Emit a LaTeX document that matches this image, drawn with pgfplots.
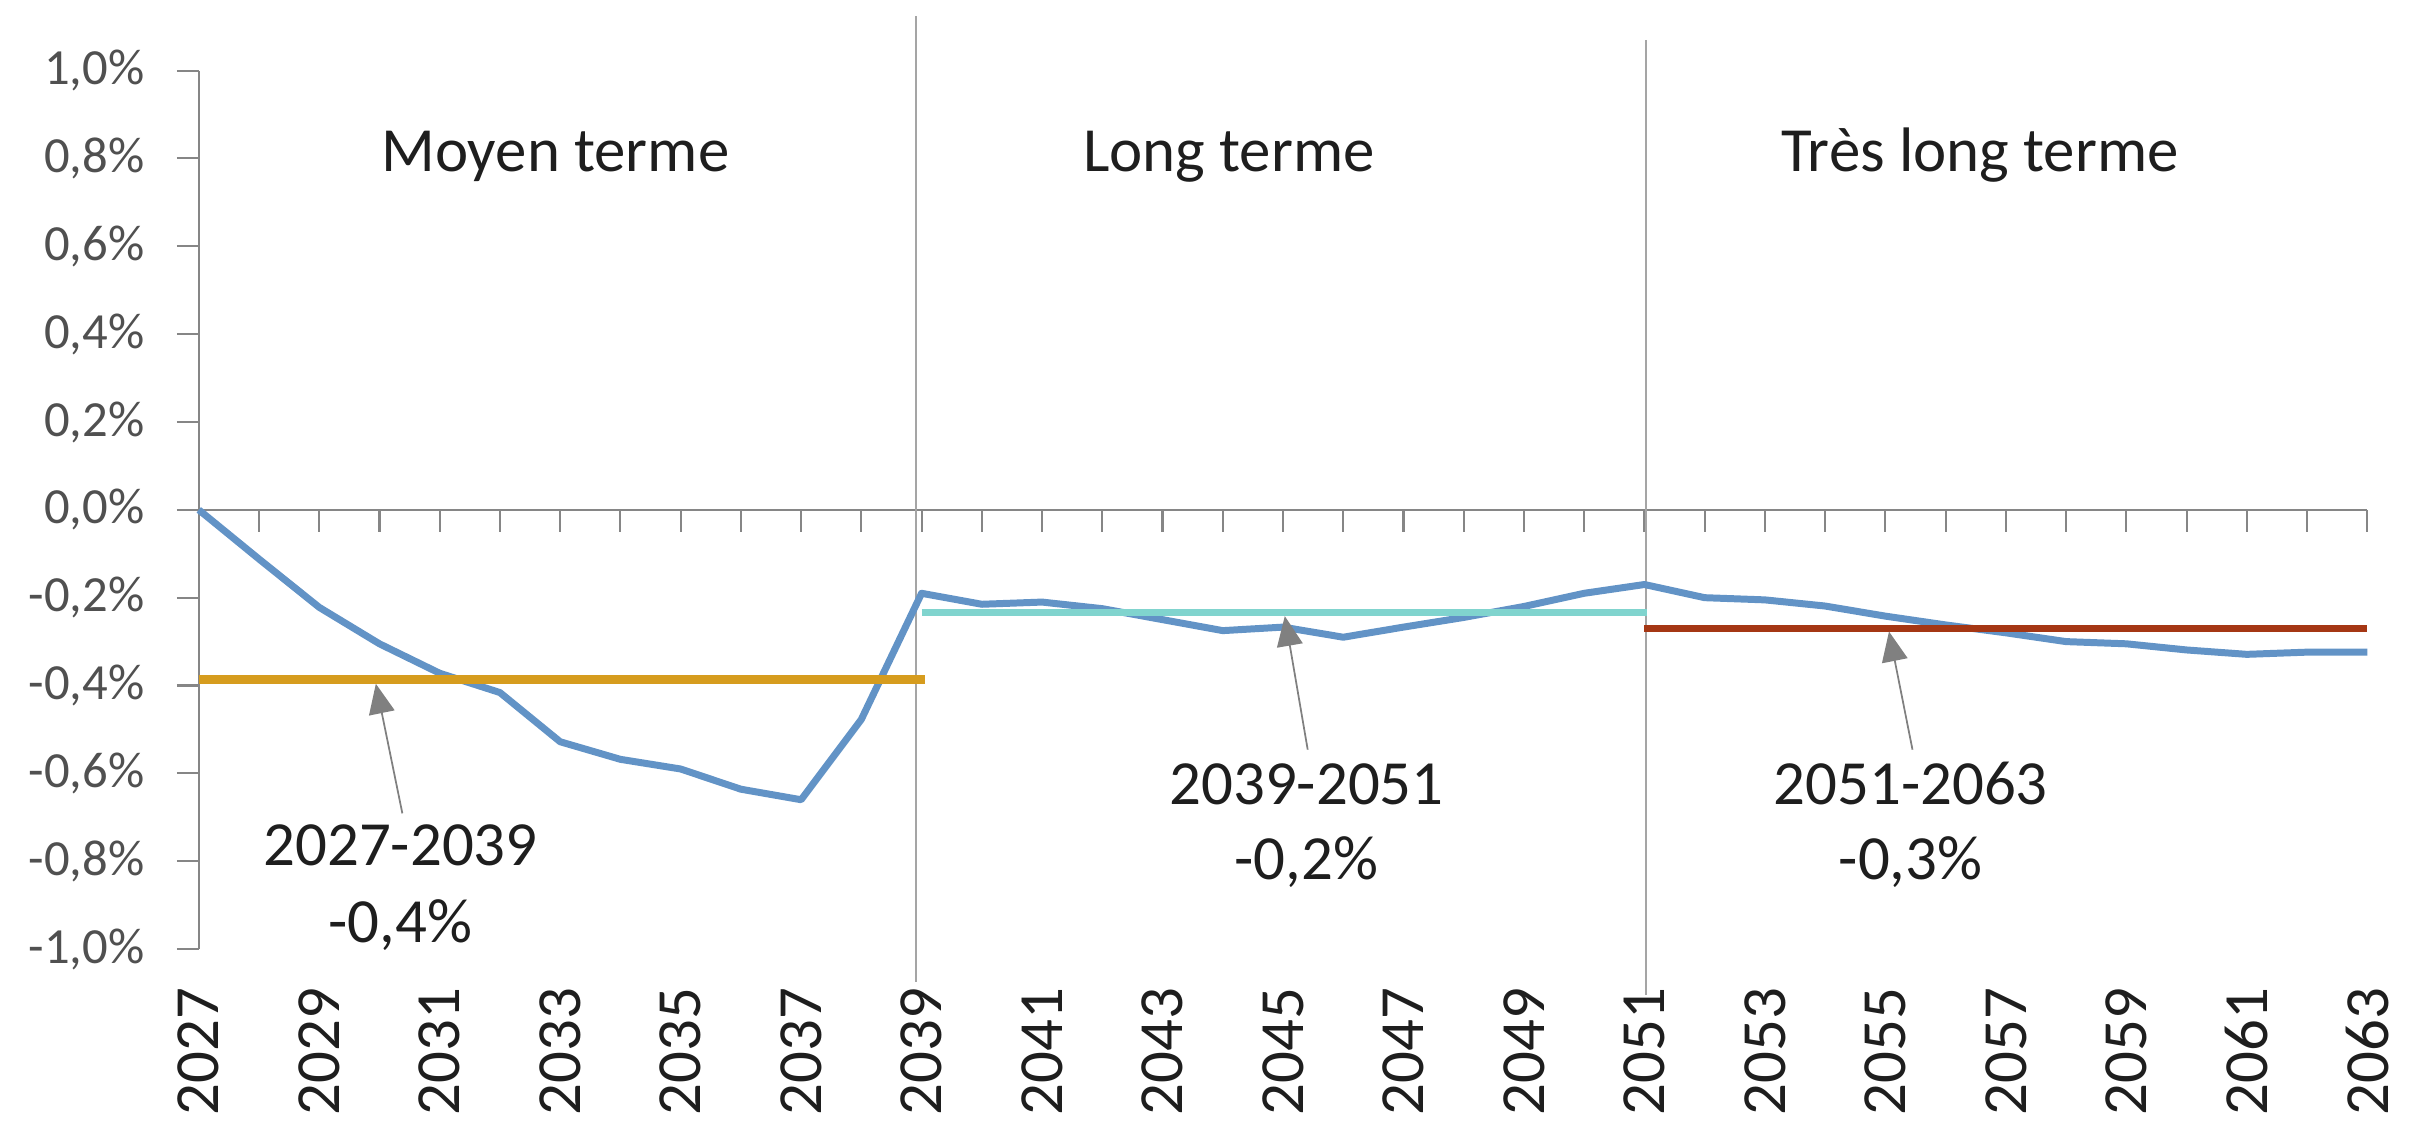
\documentclass[border=0pt]{standalone}
\usepackage{fontspec}
\setmainfont{Carlito}
\usepackage{pgfplots}
\pgfplotsset{compat=1.18}
\usetikzlibrary{arrows.meta}

\definecolor{lineblue}{RGB}{98,147,198}
\definecolor{avgorange}{RGB}{214,156,30}
\definecolor{avgteal}{RGB}{128,212,206}
\definecolor{avgbrown}{RGB}{165,55,20}
\definecolor{axisgray}{RGB}{134,134,134}
\definecolor{divgray}{RGB}{165,165,165}
\definecolor{labelgray}{RGB}{80,80,80}
\definecolor{textdark}{RGB}{30,30,30}
\definecolor{arrowgray}{RGB}{128,128,128}

\pgfplotstableread{
year val
2027 0
2028 -0.112
2029 -0.222
2030 -0.305
2031 -0.372
2032 -0.416
2033 -0.528
2034 -0.568
2035 -0.59
2036 -0.636
2037 -0.66
2038 -0.477
2039 -0.19
2040 -0.215
2041 -0.21
2042 -0.225
2043 -0.25
2044 -0.275
2045 -0.267
2046 -0.29
2047 -0.267
2048 -0.245
2049 -0.22
2050 -0.19
2051 -0.17
2052 -0.2
2053 -0.205
2054 -0.219
2055 -0.242
2056 -0.262
2057 -0.28
2058 -0.3
2059 -0.305
2060 -0.319
2061 -0.329
2062 -0.324
2063 -0.324
}\serie

\begin{document}
\begin{tikzpicture}[font=\fontsize{18}{21.6}\selectfont]
\pgfplotsset{common/.style={scale only axis, width=218.2mm, height=88.4mm,
  xmin=2027, xmax=2063, ymin=-1, ymax=1, clip=false}}

\begin{axis}[common, name=ax,
  axis y line=left, axis x line=middle,
  axis line style={draw=axisgray, line width=0.6pt, -},
  hide obscured x ticks=false, hide obscured y ticks=false,
  xtick={2027,2028,...,2063}, xticklabels={},
  ytick={-1,-0.8,-0.6,-0.4,-0.2,0,0.2,0.4,0.6,0.8,1},
  yticklabels={{-1,0\%},{-0,8\%},{-0,6\%},{-0,4\%},{-0,2\%},{0,0\%},{0,2\%},{0,4\%},{0,6\%},{0,8\%},{1,0\%}},
  tick align=outside, major tick length=2.2mm,
  tick style={draw=axisgray, line width=0.6pt},
  yticklabel style={font=\fontsize{14.5}{17}\selectfont, text=labelgray, inner sep=0pt, xshift=-3.2mm},
]
\coordinate (O) at (rel axis cs:0,0);

% dividers
\draw[divgray, line width=0.5pt] (axis cs:2038.91,1.124) -- (axis cs:2038.91,-1.075);
\draw[divgray, line width=0.5pt] (axis cs:2051.03,1.07) -- (axis cs:2051.03,-1.104);

\addplot[lineblue, line width=2pt, line join=round, no markers] table[x=year, y=val] {\serie};

\addplot[avgorange, line width=2.5pt, no markers] coordinates {(2027,-0.387) (2039.05,-0.387)};
\addplot[avgteal, line width=2.1pt, no markers] coordinates {(2039,-0.233) (2051.05,-0.233)};
\addplot[avgbrown, line width=2.1pt, no markers] coordinates {(2051,-0.27) (2063,-0.27)};

% section titles
\node[anchor=base, text=textdark] at (axis cs:2032.92,0.771) {Moyen terme};
\node[anchor=base, text=textdark] at (axis cs:2044.1,0.771) {Long terme};
\node[anchor=base, text=textdark] at (axis cs:2056.57,0.771) {Très long terme};

% annotations
\draw[arrowgray, line width=0.5pt, -{Triangle[width=2.6mm,length=3mm]}] (axis cs:2030.38,-0.691) -- (axis cs:2029.94,-0.396);
\draw[arrowgray, line width=0.5pt, -{Triangle[width=2.6mm,length=3mm]}] (axis cs:2045.41,-0.546) -- (axis cs:2045.03,-0.242);
\draw[arrowgray, line width=0.5pt, -{Triangle[width=2.6mm,length=3mm]}] (axis cs:2055.45,-0.546) -- (axis cs:2055.06,-0.277);

\node[anchor=base, text=textdark] at (axis cs:2030.35,-0.81) {2027-2039};
\node[anchor=base, text=textdark] at (axis cs:2030.35,-0.984) {-0,4\%};
\node[anchor=base, text=textdark] at (axis cs:2045.39,-0.671) {2039-2051};
\node[anchor=base, text=textdark] at (axis cs:2045.39,-0.841) {-0,2\%};
\node[anchor=base, text=textdark] at (axis cs:2055.42,-0.671) {2051-2063};
\node[anchor=base, text=textdark] at (axis cs:2055.42,-0.841) {-0,3\%};
\end{axis}

\begin{axis}[common,
  axis x line=bottom, axis y line=none,
  x axis line style={draw=none},
  xtick={2027,2029,...,2063},
  xticklabels={2027,2029,2031,2033,2035,2037,2039,2041,2043,2045,2047,2049,2051,2053,2055,2057,2059,2061,2063},
  major tick length=0pt, tick style={draw=none},
  ytick=\empty,
  xticklabel style={text=textdark, inner sep=0pt, yshift=-3.8mm, rotate=90, anchor=east},
]
\end{axis}

\pgfresetboundingbox
\path (O) ++(-20mm,-18.7mm) rectangle ++(242.4mm,114.2mm);
\end{tikzpicture}
\end{document}
